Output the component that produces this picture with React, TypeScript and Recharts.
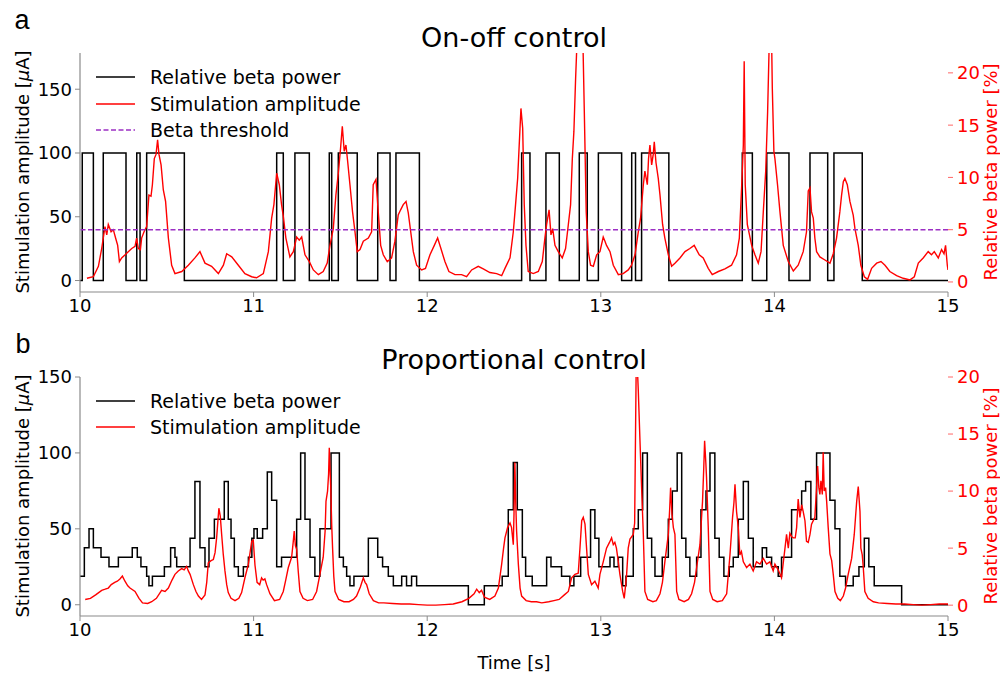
import React from 'react';
import { ComposedChart, Line, XAxis, YAxis, ReferenceLine } from 'recharts';

const FONT = '"DejaVu Sans", Verdana, sans-serif';
const RED = '#ff0000';
const PURPLE = '#9c2fc4';
const SPINE = '#8a8a8a';

const timeTicks = [10, 11, 12, 13, 14, 15];
const ampTicks = [0, 50, 100, 150];
const powerTicks = [0, 5, 10, 15, 20];
const betaThreshold = 5;

// a) on-off control: stimulation amplitude steps [time s, µA]
const onOffStim: [number, number][] = [
  [10.0, 0], [10.013, 100], [10.077, 0], [10.134, 100], [10.265, 0], [10.327, 100], [10.346, 0],
  [10.384, 100], [10.601, 0], [11.133, 100], [11.171, 0], [11.238, 100], [11.321, 0], [11.436, 100],
  [11.45, 0], [11.488, 100], [11.597, 0], [11.715, 100], [11.786, 0], [11.82, 100], [11.955, 0],
  [12.544, 100], [12.592, 0], [12.684, 100], [12.761, 0], [12.876, 100], [12.922, 0], [12.986, 100],
  [13.12, 0], [13.178, 100], [13.2, 0], [13.235, 100], [13.392, 0], [13.815, 100], [13.873, 0],
  [13.956, 100], [14.084, 0], [14.205, 100], [14.307, 0], [14.343, 100], [14.506, 0], [15.0, 0],
];

// a) relative beta power [time s, %]
const onOffBeta: [number, number][] = [
  [10.04, 0.35], [10.077, 0.5], [10.106, 1.5], [10.125, 3.2], [10.144, 5.3], [10.154, 4.5], [10.163, 5.5],
  [10.179, 4.8], [10.192, 5.0], [10.205, 4.2], [10.217, 3.5], [10.227, 1.95], [10.24, 2.3], [10.26, 2.6],
  [10.278, 2.9], [10.298, 3.2], [10.317, 3.4], [10.326, 4.2], [10.336, 3.2], [10.348, 3.1], [10.355, 4.2],
  [10.369, 4.8], [10.384, 5.3], [10.397, 8.3], [10.409, 8.2], [10.417, 9.3], [10.428, 11.8], [10.438, 12.2],
  [10.447, 13.6], [10.455, 12.2], [10.467, 11.2], [10.48, 8.8], [10.493, 7.7], [10.509, 4.2], [10.528, 1.6],
  [10.547, 0.8], [10.586, 1.0], [10.624, 1.6], [10.662, 2.3], [10.691, 2.9], [10.72, 1.8], [10.758, 1.5],
  [10.797, 0.8], [10.826, 1.6], [10.845, 2.7], [10.874, 2.4], [10.912, 1.6], [10.95, 0.8], [10.989, 0.5],
  [11.017, 0.4], [11.056, 0.8], [11.085, 2.9], [11.104, 6.1], [11.117, 7.4], [11.133, 10.4], [11.148, 9.3],
  [11.161, 7.4], [11.171, 6.3], [11.186, 4.2], [11.209, 2.4], [11.229, 2.9], [11.248, 4.3], [11.263, 4.0],
  [11.277, 4.3], [11.296, 2.6], [11.321, 1.95], [11.344, 1.15], [11.373, 0.7], [11.401, 1.0], [11.424, 1.8],
  [11.44, 3.5], [11.459, 5.1], [11.474, 8.3], [11.488, 10.4], [11.501, 12.8], [11.511, 14.9], [11.522, 12.5],
  [11.532, 13.1], [11.542, 11.5], [11.555, 9.3], [11.57, 6.7], [11.584, 4.8], [11.597, 2.9], [11.613, 3.1],
  [11.632, 3.9], [11.661, 4.2], [11.68, 4.8], [11.689, 9.3], [11.705, 9.8], [11.718, 6.7], [11.732, 3.5],
  [11.747, 2.6], [11.77, 1.95], [11.795, 2.3], [11.814, 3.9], [11.833, 6.4], [11.847, 6.9], [11.862, 7.4],
  [11.878, 7.7], [11.891, 6.6], [11.905, 4.8], [11.92, 2.9], [11.939, 1.6], [11.968, 1.15], [11.99, 1.3],
  [12.016, 2.6], [12.041, 3.5], [12.06, 4.2], [12.079, 3.2], [12.102, 1.95], [12.125, 1.0], [12.16, 0.7],
  [12.198, 0.7], [12.227, 0.5], [12.256, 1.15], [12.294, 1.5], [12.323, 1.25], [12.361, 0.9], [12.4, 0.8],
  [12.429, 0.6], [12.448, 1.3], [12.477, 2.3], [12.496, 4.8], [12.509, 7.4], [12.521, 9.9], [12.53, 13.1],
  [12.54, 16.6], [12.55, 14.7], [12.559, 7.4], [12.569, 3.5], [12.582, 1.0], [12.611, 0.8], [12.64, 1.0],
  [12.663, 1.95], [12.678, 4.2], [12.688, 5.5], [12.702, 6.9], [12.713, 4.5], [12.723, 5.1], [12.736, 3.5],
  [12.755, 2.9], [12.778, 2.3], [12.797, 3.2], [12.813, 5.5], [12.826, 7.4], [12.836, 11.8], [12.845, 14.4],
  [12.855, 19.5], [12.863, 23], [12.88, 30], [12.897, 23], [12.905, 16.3], [12.916, 6.7], [12.928, 2.9],
  [12.941, 1.6], [12.957, 1.5], [12.976, 2.6], [12.995, 2.9], [13.014, 4.3], [13.024, 3.9], [13.033, 3.5],
  [13.053, 2.9], [13.072, 1.6], [13.101, 0.7], [13.129, 0.8], [13.158, 1.15], [13.177, 1.6], [13.197, 2.6],
  [13.216, 4.8], [13.229, 6.1], [13.245, 9.3], [13.254, 10.6], [13.268, 9.3], [13.275, 11.8], [13.283, 13.1],
  [13.293, 11.2], [13.302, 12.2], [13.308, 13.4], [13.318, 11.4], [13.331, 9.9], [13.341, 8.3], [13.356, 5.5],
  [13.369, 4.2], [13.389, 2.6], [13.408, 1.5], [13.427, 1.8], [13.456, 2.3], [13.485, 2.9], [13.513, 3.2],
  [13.538, 3.5], [13.567, 2.6], [13.59, 2.3], [13.619, 1.3], [13.642, 0.7], [13.677, 1.0], [13.715, 1.25],
  [13.753, 1.6], [13.782, 2.6], [13.798, 4.2], [13.811, 9.0], [13.821, 13.1], [13.826, 21.1], [13.832, 9.3],
  [13.844, 5.5], [13.869, 3.5], [13.888, 2.6], [13.907, 1.8], [13.923, 2.9], [13.936, 6.7], [13.95, 10.6],
  [13.961, 16.3], [13.969, 22], [13.977, 28], [13.984, 23], [13.988, 18.5], [13.997, 12.5], [14.003, 11.8],
  [14.018, 9.3], [14.032, 6.7], [14.051, 3.5], [14.08, 1.95], [14.109, 1.05], [14.137, 1.6], [14.166, 2.9],
  [14.185, 4.8], [14.195, 8.7], [14.205, 9.0], [14.214, 6.7], [14.224, 6.1], [14.233, 4.2], [14.243, 2.9],
  [14.262, 2.4], [14.291, 2.1], [14.32, 1.8], [14.339, 2.7], [14.358, 4.2], [14.377, 6.7], [14.387, 8.3],
  [14.397, 9.6], [14.406, 9.9], [14.42, 9.3], [14.435, 7.7], [14.454, 6.4], [14.464, 5.1], [14.483, 3.5],
  [14.498, 1.6], [14.518, 0.5], [14.537, 0.25], [14.56, 1.3], [14.589, 1.8], [14.614, 1.95], [14.637, 1.6],
  [14.665, 1.0], [14.704, 0.6], [14.742, 0.35], [14.781, 0.2], [14.806, 0.5], [14.829, 1.8], [14.857, 2.3],
  [14.886, 2.9], [14.905, 2.6], [14.921, 2.9], [14.944, 2.3], [14.963, 3.1], [14.977, 2.7], [14.986, 3.5],
  [14.996, 1.6], [15.0, 1.15],
];

// b) proportional control: stimulation amplitude steps [time s, µA]
const propStim: [number, number][] = [
  [10.0, 18.75], [10.025, 37.5], [10.052, 50], [10.077, 37.5], [10.121, 31.25], [10.167, 25], [10.221, 31.25],
  [10.301, 37.5], [10.33, 31.25], [10.351, 25], [10.384, 18.75], [10.397, 12.5], [10.417, 18.75], [10.486, 25],
  [10.522, 37.5], [10.547, 31.25], [10.557, 25], [10.634, 43.75], [10.662, 81.25], [10.691, 37.5], [10.72, 25],
  [10.743, 43.75], [10.774, 56.25], [10.831, 81.25], [10.854, 56.25], [10.87, 43.75], [10.889, 25],
  [10.912, 18.75], [10.941, 25], [10.97, 31.25], [10.99, 43.75], [11.002, 50], [11.021, 43.75], [11.052, 50],
  [11.079, 87.5], [11.104, 68.75], [11.133, 25], [11.161, 31.25], [11.248, 56.25], [11.271, 100],
  [11.296, 56.25], [11.325, 31.25], [11.353, 18.75], [11.382, 50], [11.446, 100], [11.494, 31.25],
  [11.517, 25], [11.536, 18.75], [11.555, 12.5], [11.578, 18.75], [11.661, 43.75], [11.715, 31.25],
  [11.743, 25], [11.776, 18.75], [11.805, 12.5], [11.853, 18.75], [11.881, 12.5], [11.91, 18.75],
  [11.939, 12.5], [12.237, 0], [12.329, 12.5], [12.432, 18.75], [12.467, 62.5], [12.496, 93.75],
  [12.519, 62.5], [12.548, 31.25], [12.567, 18.75], [12.605, 12.5], [12.688, 31.25], [12.713, 25],
  [12.774, 18.75], [12.822, 12.5], [12.845, 18.75], [12.884, 31.25], [12.941, 62.5], [12.966, 43.75],
  [12.989, 25], [13.053, 31.25], [13.076, 25], [13.101, 31.25], [13.126, 12.5], [13.145, 18.75], [13.187, 50],
  [13.216, 62.5], [13.241, 100], [13.268, 43.75], [13.293, 31.25], [13.312, 18.75], [13.354, 31.25],
  [13.389, 56.25], [13.412, 75], [13.44, 100], [13.466, 43.75], [13.49, 31.25], [13.513, 18.75],
  [13.552, 31.25], [13.577, 62.5], [13.606, 75], [13.629, 100], [13.657, 43.75], [13.682, 31.25],
  [13.709, 18.75], [13.74, 25], [13.763, 31.25], [13.792, 56.25], [13.821, 81.25], [13.85, 43.75],
  [13.878, 25], [13.93, 37.5], [13.955, 31.25], [13.984, 25], [14.022, 18.75], [14.041, 31.25],
  [14.099, 62.5], [14.157, 75], [14.18, 81.25], [14.21, 56.25], [14.243, 100], [14.32, 68.75], [14.349, 50],
  [14.377, 18.75], [14.41, 12.5], [14.454, 18.75], [14.487, 25], [14.518, 43.75], [14.544, 25],
  [14.575, 12.5], [14.733, 0], [15.0, 0],
];

// b) relative beta power [time s, %]
const propBeta: [number, number][] = [
  [10.03, 0.5], [10.06, 0.6], [10.09, 0.9], [10.125, 1.3], [10.145, 1.4], [10.163, 1.5], [10.18, 1.8],
  [10.2, 2.0], [10.215, 2.1], [10.23, 2.3], [10.244, 2.55], [10.259, 2.1], [10.275, 1.7], [10.288, 1.5],
  [10.317, 1.2], [10.34, 0.6], [10.36, 0.2], [10.39, 0.15], [10.413, 0.3], [10.44, 0.6], [10.47, 1.3],
  [10.49, 1.2], [10.509, 1.5], [10.53, 2.2], [10.547, 2.7], [10.566, 3.0], [10.586, 3.2], [10.6, 3.1],
  [10.614, 3.4], [10.624, 3.0], [10.634, 2.7], [10.653, 1.8], [10.668, 1.2], [10.682, 0.8], [10.7, 0.5],
  [10.72, 0.9], [10.73, 2.0], [10.739, 3.7], [10.755, 3.9], [10.768, 4.0], [10.778, 4.6], [10.787, 5.9],
  [10.795, 7.5], [10.8, 8.5], [10.808, 7.8], [10.816, 6.2], [10.825, 4.5], [10.835, 3.0], [10.845, 1.8],
  [10.854, 1.1], [10.87, 0.6], [10.893, 0.4], [10.915, 0.6], [10.931, 1.1], [10.95, 2.4], [10.97, 3.6],
  [10.989, 5.6], [10.998, 5.7], [11.008, 3.5], [11.02, 2.0], [11.035, 1.8], [11.046, 2.4], [11.055, 2.2],
  [11.065, 2.3], [11.075, 1.8], [11.094, 1.0], [11.12, 0.4], [11.15, 0.5], [11.171, 1.2], [11.185, 2.2],
  [11.2, 3.3], [11.219, 4.2], [11.228, 5.5], [11.234, 6.5], [11.241, 5.2], [11.248, 4.9], [11.257, 3.0],
  [11.267, 1.2], [11.285, 0.6], [11.31, 0.4], [11.34, 0.5], [11.363, 1.2], [11.382, 2.7], [11.401, 4.2],
  [11.412, 6.5], [11.417, 9.1], [11.426, 10.0], [11.432, 11.5], [11.436, 13.8], [11.44, 12.0], [11.444, 10.5],
  [11.45, 7.0], [11.455, 5.0], [11.462, 2.5], [11.469, 1.2], [11.49, 0.5], [11.52, 0.3], [11.55, 0.3],
  [11.575, 0.5], [11.593, 0.8], [11.615, 1.6], [11.632, 2.4], [11.642, 2.0], [11.651, 1.8], [11.666, 1.0],
  [11.69, 0.4], [11.72, 0.2], [11.75, 0.2], [11.8, 0.15], [11.85, 0.1], [11.9, 0.1], [11.95, 0.05],
  [12.0, 0.0], [12.05, 0.0], [12.1, 0.05], [12.15, 0.1], [12.2, 0.3], [12.24, 0.6], [12.27, 1.0],
  [12.285, 1.4], [12.3, 1.1], [12.313, 1.3], [12.33, 0.7], [12.36, 0.5], [12.39, 0.8], [12.41, 1.5],
  [12.429, 3.6], [12.44, 5.0], [12.448, 5.9], [12.463, 6.8], [12.477, 7.2], [12.486, 6.8], [12.496, 5.3],
  [12.5, 8.0], [12.505, 12.5], [12.51, 9.0], [12.515, 6.5], [12.525, 3.6], [12.535, 1.5], [12.544, 0.8],
  [12.57, 0.4], [12.6, 0.3], [12.63, 0.3], [12.66, 0.2], [12.7, 0.3], [12.73, 0.4], [12.76, 0.5],
  [12.79, 0.9], [12.813, 1.2], [12.832, 2.4], [12.851, 2.7], [12.87, 2.8], [12.88, 5.0], [12.89, 7.4],
  [12.899, 7.7], [12.909, 7.1], [12.918, 5.0], [12.928, 2.7], [12.947, 1.8], [12.966, 2.1], [12.985, 1.5],
  [12.995, 2.7], [13.014, 3.8], [13.033, 5.0], [13.05, 5.5], [13.062, 5.9], [13.072, 5.3], [13.081, 5.5],
  [13.09, 5.0], [13.101, 3.8], [13.11, 2.7], [13.126, 1.2], [13.135, 0.6], [13.148, 2.5], [13.158, 5.0],
  [13.168, 5.8], [13.187, 6.2], [13.195, 7.2], [13.2, 15], [13.204, 21], [13.21, 21], [13.216, 18.8],
  [13.225, 14.7], [13.235, 10.3], [13.245, 6.2], [13.254, 1.2], [13.27, 0.5], [13.3, 0.3], [13.32, 0.4],
  [13.341, 1.0], [13.355, 2.0], [13.369, 3.8], [13.389, 6.2], [13.397, 8.5], [13.402, 10.3], [13.41, 8.0],
  [13.418, 6.8], [13.427, 6.2], [13.437, 1.2], [13.45, 0.5], [13.48, 0.3], [13.505, 0.5], [13.523, 1.0],
  [13.54, 2.0], [13.552, 3.3], [13.571, 5.3], [13.586, 9.1], [13.593, 12], [13.598, 14.4], [13.605, 12.5],
  [13.609, 11.2], [13.619, 6.8], [13.629, 1.2], [13.645, 0.5], [13.67, 0.3], [13.7, 0.4], [13.725, 1.0],
  [13.744, 4.4], [13.759, 7.7], [13.767, 9.0], [13.773, 10.6], [13.782, 8.2], [13.792, 6.8], [13.801, 4.4],
  [13.81, 4.7], [13.821, 3.8], [13.84, 3.3], [13.859, 3.6], [13.878, 3.0], [13.897, 3.8], [13.917, 3.6],
  [13.936, 4.1], [13.955, 3.6], [13.974, 3.8], [13.993, 3.0], [14.003, 3.6], [14.022, 3.1], [14.041, 2.4],
  [14.061, 5.0], [14.07, 6.2], [14.08, 5.0], [14.089, 6.3], [14.1, 6.0], [14.109, 5.9], [14.12, 5.9],
  [14.128, 6.8], [14.137, 9.3], [14.147, 7.7], [14.157, 8.8], [14.166, 8.2], [14.176, 7.4], [14.185, 5.6],
  [14.195, 5.5], [14.205, 6.2], [14.214, 7.1], [14.233, 7.7], [14.243, 10.3], [14.249, 12.2], [14.256, 10.3],
  [14.262, 9.7], [14.268, 10.9], [14.276, 9.7], [14.281, 13.4], [14.287, 10.0], [14.295, 10.3], [14.301, 9.1],
  [14.31, 6.8], [14.32, 4.5], [14.33, 3.9], [14.339, 2.7], [14.349, 1.2], [14.365, 0.6], [14.38, 0.4],
  [14.397, 0.8], [14.41, 1.5], [14.425, 2.7], [14.445, 4.1], [14.46, 6.2], [14.474, 9.1], [14.483, 10.4],
  [14.493, 8.2], [14.498, 5.0], [14.506, 4.4], [14.512, 3.3], [14.521, 1.2], [14.54, 0.6], [14.57, 0.3],
  [14.6, 0.2], [14.65, 0.15], [14.7, 0.1], [14.75, 0.1], [14.8, 0.05], [14.85, 0.0], [14.9, 0.05],
  [14.95, 0.1], [15.0, 0.1],
];

const toRows = (pts: [number, number][]) => pts.map(([t, v]) => ({ t, v }));

interface PanelProps {
  top: number;
  height: number;
  marginTop: number;
  xAxisHeight: number;
  stim: [number, number][];
  beta: [number, number][];
  ampDomain: [number, number];
  powerDomain: [number, number];
  threshold?: boolean;
}

function Panel({ top, height, marginTop, xAxisHeight, stim, beta, ampDomain, powerDomain, threshold }: PanelProps) {
  const tickFont = { fontSize: 18, fontFamily: FONT };
  return (
    <div style={{ position: 'absolute', left: 0, top }}>
      <ComposedChart width={1000} height={height} margin={{ top: marginTop, right: 0, bottom: 0, left: 0 }}>
        <XAxis
          type="number"
          dataKey="t"
          domain={[10, 15]}
          ticks={timeTicks}
          allowDataOverflow
          height={xAxisHeight}
          axisLine={{ stroke: SPINE, strokeWidth: 1.2 }}
          tickLine={{ stroke: SPINE }}
          tickSize={5}
          tickMargin={2}
          tick={{ ...tickFont, fill: '#000' }}
        />
        <YAxis
          yAxisId="amp"
          orientation="left"
          width={80}
          type="number"
          domain={ampDomain}
          ticks={ampTicks}
          allowDataOverflow
          axisLine={{ stroke: SPINE, strokeWidth: 1.2 }}
          tickLine={{ stroke: SPINE }}
          tickSize={5}
          tickMargin={3}
          tick={{ ...tickFont, fill: '#000' }}
        />
        <YAxis
          yAxisId="pow"
          orientation="right"
          width={52}
          type="number"
          domain={powerDomain}
          ticks={powerTicks}
          allowDataOverflow
          axisLine={false}
          tickLine={{ stroke: RED, strokeOpacity: 0.6 }}
          tickSize={5}
          tickMargin={4}
          tick={{ ...tickFont, fill: RED }}
        />
        <Line
          yAxisId="amp"
          data={toRows(stim)}
          dataKey="v"
          type="stepAfter"
          stroke="#000"
          strokeWidth={1.5}
          dot={false}
          isAnimationActive={false}
        />
        <Line
          yAxisId="pow"
          data={toRows(beta)}
          dataKey="v"
          type="linear"
          stroke={RED}
          strokeWidth={1.4}
          dot={false}
          isAnimationActive={false}
        />
        {threshold && (
          <ReferenceLine yAxisId="pow" y={betaThreshold} stroke={PURPLE} strokeWidth={1.4} strokeDasharray="5 2.5" />
        )}
      </ComposedChart>
    </div>
  );
}

function LegendRow({ y, color, label, dashed }: { y: number; color: string; label: string; dashed?: boolean }) {
  return (
    <g>
      <line x1={96} x2={135} y1={y} y2={y} stroke={color} strokeWidth={1.5} strokeDasharray={dashed ? '5 2.5' : undefined} />
      <text x={150} y={y} fontSize={19} dominantBaseline="central" fill="#000">{label}</text>
    </g>
  );
}

function AxisTitles({ cy }: { cy: number }) {
  return (
    <g>
      <text x={22} y={cy} fontSize={18} textAnchor="middle" dominantBaseline="central" transform={`rotate(-90 22 ${cy})`}>
        Stimulation amplitude [<tspan fontStyle="italic">μ</tspan>A]
      </text>
      <text x={990} y={cy} fontSize={18} fill={RED} textAnchor="middle" dominantBaseline="central" transform={`rotate(-90 990 ${cy})`}>
        Relative beta power [%]
      </text>
    </g>
  );
}

export default function App() {
  return (
    <div style={{ position: 'absolute', left: 0, top: 0, width: 1000, height: 677, background: '#fff', fontFamily: FONT }}>
      <Panel
        top={0}
        height={330}
        marginTop={53}
        xAxisHeight={38}
        stim={onOffStim}
        beta={onOffBeta}
        ampDomain={[-9, 178.4]}
        powerDomain={[-0.96, 21.9]}
        threshold
      />
      <Panel
        top={330}
        height={322}
        marginTop={47}
        xAxisHeight={36}
        stim={propStim}
        beta={propBeta}
        ampDomain={[-7.4, 150]}
        powerDomain={[-0.95, 20]}
      />
      <svg width={1000} height={677} style={{ position: 'absolute', left: 0, top: 0, pointerEvents: 'none', fontFamily: FONT }}>
        <text x={22} y={20} fontSize={27} fontFamily='"Liberation Sans", Arial, sans-serif' textAnchor="middle" dominantBaseline="central">a</text>
        <text x={23} y={344} fontSize={27} fontFamily='"Liberation Sans", Arial, sans-serif' textAnchor="middle" dominantBaseline="central">b</text>
        <text x={514} y={37} fontSize={27} textAnchor="middle" dominantBaseline="central">On-off control</text>
        <text x={514} y={359} fontSize={27} textAnchor="middle" dominantBaseline="central">Proportional control</text>
        <LegendRow y={77} color="#000" label="Relative beta power" />
        <LegendRow y={104} color={RED} label="Stimulation amplitude" />
        <LegendRow y={130} color={PURPLE} label="Beta threshold" dashed />
        <LegendRow y={401} color="#000" label="Relative beta power" />
        <LegendRow y={427} color={RED} label="Stimulation amplitude" />
        <AxisTitles cy={172} />
        <AxisTitles cy={496} />
        <text x={514} y={662} fontSize={18} textAnchor="middle" dominantBaseline="central">Time [s]</text>
      </svg>
    </div>
  );
}
